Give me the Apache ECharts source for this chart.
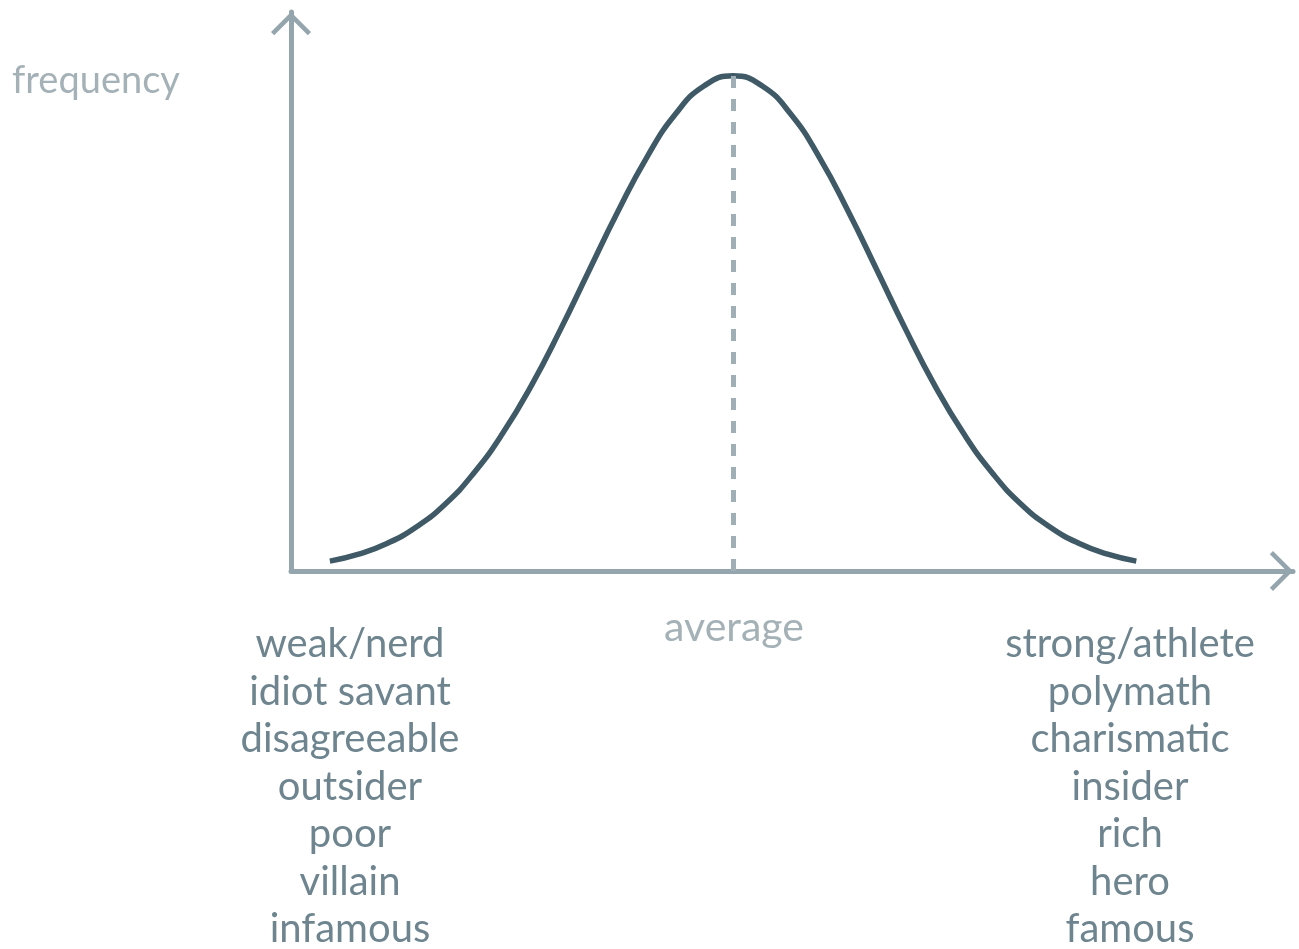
<!DOCTYPE html>
<html>
<head>
<meta charset="utf-8">
<script src="https://cdn.jsdelivr.net/npm/echarts@6/dist/echarts.min.js"></script>
<style>
  html, body { margin: 0; padding: 0; background: #fff; }
  #chart { width: 1299px; height: 949px; }
</style>
</head>
<body>
<div id="chart"></div>
<script>
// trait score (in standard deviations from the average)
const traitScores = [-2.8, -2.6, -2.4, -2.2, -2, -1.8, -1.6, -1.4, -1.2, -1, -0.8, -0.6, -0.4, -0.2, 0,
  0.2, 0.4, 0.6, 0.8, 1, 1.2, 1.4, 1.6, 1.8, 2, 2.2, 2.4, 2.6, 2.8];
// frequency, peak = 100
const frequency = [2.0, 3.4, 5.6, 8.9, 13.5, 19.8, 27.8, 37.5, 48.7, 60.7, 72.6, 83.5, 92.3, 98.0, 100,
  98.0, 92.3, 83.5, 72.6, 60.7, 48.7, 37.5, 27.8, 19.8, 13.5, 8.9, 5.6, 3.4, 2.0];
const averageScore = 0;

const leftLabels = ['weak/nerd', 'idiot savant', 'disagreeable', 'outsider', 'poor', 'villain', 'infamous'];
const rightLabels = ['strong/athlete', 'polymath', 'charismatic', 'insider', 'rich', 'hero', 'famous'];
const yAxisName = 'frequency';
const averageLabel = 'average';

const axisColor = '#95a5ad';
const curveColor = '#3f5a66';
const textColor = '#6e848e';
const lightText = '#a4b1b7';
const fontFamily = 'Lato, "Open Sans", sans-serif';

// 箭头：开口的 V 形
const chevron = 'path://M20 0 L40 20 L36.8 23.2 L20 6.4 L3.2 23.2 L0 20 Z';

const chart = echarts.init(document.getElementById('chart'));

const option = {
  animation: false,
  grid: { left: 291, right: 6, top: 12, bottom: 378 },
  xAxis: {
    type: 'value',
    min: -3.07,
    max: 3.888,
    axisLine: {
      show: true,
      onZero: false,
      symbol: ['none', chevron],
      symbolSize: [40, 23.2],
      symbolOffset: [0, -11.6],
      lineStyle: { color: axisColor, width: 5 }
    },
    axisTick: { show: false },
    axisLabel: { show: false },
    splitLine: { show: false }
  },
  yAxis: {
    type: 'value',
    min: 0,
    max: 112.9,
    axisLine: {
      show: true,
      onZero: false,
      symbol: ['none', chevron],
      symbolSize: [40, 23.2],
      symbolOffset: [0, -11.6],
      lineStyle: { color: axisColor, width: 5 }
    },
    axisTick: { show: false },
    axisLabel: { show: false },
    splitLine: { show: false }
  },
  series: [
    {
      type: 'line',
      data: traitScores.map((x, i) => [x, frequency[i]]),
      smooth: true,
      showSymbol: false,
      lineStyle: { color: curveColor, width: 5.5 },
      markLine: {
        silent: true,
        symbol: ['none', 'none'],
        label: { show: false },
        lineStyle: { color: '#a0aeb5', width: 5, type: [12, 11] },
        data: [[{ coord: [averageScore, 0] }, { coord: [averageScore, 100] }]]
      },
      z: 3
    }
  ],
  graphic: [
    {
      type: 'text',
      left: 12,
      top: 62,
      style: { text: yAxisName, fill: lightText, fontSize: 38, fontFamily: fontFamily }
    },
    {
      type: 'text',
      x: 734,
      y: 628,
      style: {
        text: averageLabel, fill: lightText, fontSize: 41, fontFamily: fontFamily,
        textAlign: 'center', textVerticalAlign: 'middle'
      }
    },
    {
      type: 'text',
      x: 350,
      y: 787,
      style: {
        text: leftLabels.join('\n'), fill: textColor, fontSize: 40, lineHeight: 47.5,
        fontFamily: fontFamily, textAlign: 'center', textVerticalAlign: 'middle'
      }
    },
    {
      type: 'text',
      x: 1130,
      y: 787,
      style: {
        text: rightLabels.join('\n'), fill: textColor, fontSize: 40, lineHeight: 47.5,
        fontFamily: fontFamily, textAlign: 'center', textVerticalAlign: 'middle'
      }
    }
  ]
};

chart.setOption(option);
</script>
</body>
</html>
